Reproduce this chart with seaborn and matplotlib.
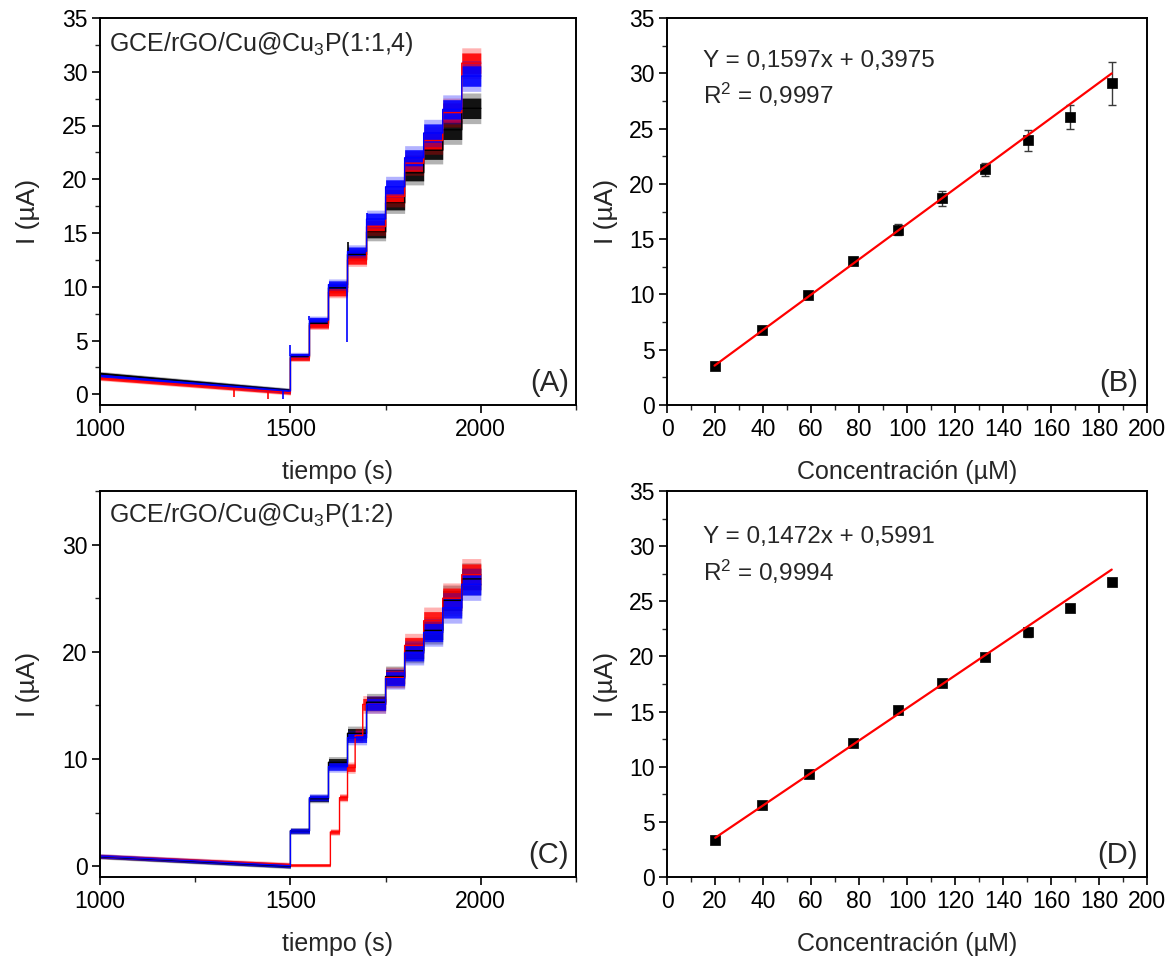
import numpy as np
import pandas as pd
import matplotlib
matplotlib.use("Agg")
import matplotlib.pyplot as plt
import seaborn as sns
from matplotlib.ticker import MultipleLocator

sns.set_theme(style="ticks")
plt.rcParams['font.family'] = ['Liberation Sans', 'DejaVu Sans']
plt.rcParams['mathtext.fontset'] = 'custom'
plt.rcParams['mathtext.rm'] = 'Liberation Sans'
plt.rcParams['mathtext.it'] = 'Liberation Sans'

# ---------------- data ----------------
t_start = 1000
t_end = 2000
step_times = [1500, 1550, 1600, 1650, 1700, 1750, 1800, 1850, 1900, 1950]

# Panel A  (GCE/rGO/Cu@Cu3P 1:1,4)
A_black_base = [1.9, 0.35]
A_red_base = [1.5, 0.15]
A_blue_base = [1.75, 0.3]
A_black_levels = [3.5, 6.6, 9.9, 13.0, 15.1, 17.8, 20.6, 22.7, 24.6, 26.6]
A_red_levels = [3.35, 6.4, 9.5, 12.5, 15.6, 18.4, 21.5, 23.6, 26.2, 30.8]
A_blue_levels = [3.6, 6.9, 10.2, 13.3, 16.3, 19.3, 22.0, 24.3, 26.5, 29.6]
A_noise = [0.2, 0.25, 0.35, 0.4, 0.55, 0.65, 0.75, 0.85, 0.9, 0.95]
A_spike_t = [1500, 1550, 1648, 1650, 1700, 1352, 1440, 1480]
A_spike_lo = [3.6, 6.9, 4.9, 13.3, 16.3, -0.3, -0.4, -0.4]
A_spike_hi = [4.6, 7.3, 10.2, 14.2, 16.9, 0.5, 0.3, 0.3]
A_spike_c = ['blue', 'blue', 'blue', 'black', 'blue', 'red', 'red', 'blue']

# Panel C  (GCE/rGO/Cu@Cu3P 1:2)
C_black_base = [0.9, 0.0]
C_red_base = [0.95, 0.15]
C_blue_base = [0.95, 0.05]
C_red_step_times = [1605, 1629, 1650, 1670, 1690, 1750, 1800, 1850, 1900, 1950]
C_black_levels = [3.3, 6.3, 9.7, 12.4, 15.3, 17.7, 20.1, 22.0, 24.8, 26.8]
C_red_levels = [3.2, 6.4, 9.2, 12.2, 15.1, 17.6, 20.6, 22.9, 25.0, 27.2]
C_blue_levels = [3.3, 6.4, 9.3, 12.0, 15.1, 17.5, 19.9, 21.8, 24.1, 26.3]
C_noise = [0.2, 0.25, 0.35, 0.45, 0.55, 0.65, 0.75, 0.85, 0.95, 1.0]

# Panel B calibration
B_conc = [19.8, 39.6, 58.8, 77.6, 96.1, 114.5, 132.5, 150.6, 168.0, 185.3]
B_current = [3.5, 6.74, 9.91, 13.0, 15.87, 18.68, 21.3, 23.93, 26.02, 29.1]
B_err = [0.1, 0.15, 0.2, 0.25, 0.47, 0.65, 0.6, 0.94, 1.09, 1.93]
B_slope, B_intercept = 0.1597, 0.3975

# Panel D calibration
D_conc = [20.1, 39.7, 59.0, 77.7, 96.3, 114.7, 132.6, 150.5, 167.8, 185.3]
D_current = [3.38, 6.49, 9.35, 12.13, 15.15, 17.62, 19.98, 22.18, 24.35, 26.77]
D_err = [0.15, 0.12, 0.12, 0.15, 0.2, 0.25, 0.15, 0.4, 0.2, 0.2]
D_slope, D_intercept = 0.1472, 0.5991

BASE_NOISE = 0.15
COL = {'black': '#000000', 'red': '#ff0000', 'blue': '#0000ff'}


def trace(base, times, levels, noise, first_flat=None):
    x = [t_start, step_times[0]]
    y = [base[0], base[1]]
    n = [BASE_NOISE, BASE_NOISE]
    if first_flat is not None and times[0] > step_times[0]:
        x += [step_times[0], times[0]]
        y += [first_flat, first_flat]
        n += [BASE_NOISE * 0.7, BASE_NOISE * 0.7]
    ends = list(times[1:]) + [t_end]
    for t0, t1, L, nz in zip(times, ends, levels, noise):
        x += [t0, t1]
        y += [L, L]
        n += [nz, nz]
    return np.array(x, float), np.array(y, float), np.array(n, float)


def draw_trace(ax, x, y, n, color, alpha=0.9):
    ax.fill_between(x, y - 1.5 * n, y + 1.5 * n, color=COL[color], alpha=0.3, lw=0)
    ax.fill_between(x, y - n, y + n, color=COL[color], alpha=alpha, lw=0)
    sns.lineplot(x=x, y=y, sort=False, estimator=None, color=COL[color],
                 lw=1.0, ax=ax)


fig = plt.figure(figsize=(11.67, 9.57), dpi=100)
W, H = 1167.0, 957.0


def rect(l, r, t, b):
    return [l / W, 1 - b / H, (r - l) / W, (b - t) / H]


axA = fig.add_axes(rect(100, 576, 18, 405))
axB = fig.add_axes(rect(667, 1147, 18, 405))
axC = fig.add_axes(rect(100, 576, 491, 877))
axD = fig.add_axes(rect(667, 1147, 491, 877))

TICK = 16.5
LAB = 18
YLAB = 19

# ---- Panel A ----
for col, base, lev in [('black', A_black_base, A_black_levels),
                       ('red', A_red_base, A_red_levels),
                       ('blue', A_blue_base, A_blue_levels)]:
    x, y, n = trace(base, step_times, lev, A_noise)
    draw_trace(axA, x, y, n, col)
for t, lo, hi, c in zip(A_spike_t, A_spike_lo, A_spike_hi, A_spike_c):
    axA.vlines(t, lo, hi, color=COL[c], lw=1.2)

# ---- Panel C ----
for col, base, times, lev, ff in [('black', C_black_base, step_times, C_black_levels, None),
                                  ('red', C_red_base, C_red_step_times, C_red_levels, 0.1),
                                  ('blue', C_blue_base, step_times, C_blue_levels, None)]:
    x, y, n = trace(base, times, lev, C_noise, first_flat=ff)
    draw_trace(axC, x, y, n, col, alpha=0.85)

for ax, sub, lab in [(axA, '1:1,4', '(A)'), (axC, '1:2', '(C)')]:
    ax.set_xlim(1000, 2250)
    ax.set_ylim(-1, 35)
    ax.xaxis.set_major_locator(MultipleLocator(500))
    ax.xaxis.set_minor_locator(MultipleLocator(250))
    ax.set_xlabel('tiempo (s)', fontsize=LAB, labelpad=14)
    ax.set_ylabel('I (µA)', fontsize=YLAB, labelpad=16)
    ax.text(0.019, 0.915 if lab == '(A)' else 0.92,
            'GCE/rGO/Cu@Cu$_3$P(' + sub + ')', transform=ax.transAxes,
            fontsize=18, ha='left', va='baseline')
    ax.text(0.985, 0.036, lab, transform=ax.transAxes, fontsize=21,
            ha='right', va='baseline')

axA.yaxis.set_major_locator(MultipleLocator(5))
axA.yaxis.set_minor_locator(MultipleLocator(2.5))
axC.yaxis.set_major_locator(MultipleLocator(10))
axC.yaxis.set_minor_locator(MultipleLocator(5))

# ---- Panels B, D ----
for ax, cx, cy, ce, m, b, eq, r2, lab in [
        (axB, B_conc, B_current, B_err, B_slope, B_intercept,
         'Y = 0,1597x + 0,3975', 'R$^2$ = 0,9997', '(B)'),
        (axD, D_conc, D_current, D_err, D_slope, D_intercept,
         'Y = 0,1472x + 0,5991', 'R$^2$ = 0,9994', '(D)')]:
    ax.errorbar(cx, cy, yerr=ce, fmt='none', ecolor='#3a3a3a',
                elinewidth=1.0, capsize=3, capthick=1.0, zorder=2)
    sns.scatterplot(x=cx, y=cy, marker='s', color='black', s=48,
                    edgecolor='black', linewidth=0.5, ax=ax, zorder=3)
    xf = np.array([cx[0], cx[-1]])
    ax.plot(xf, m * xf + b, color='#ff0000', lw=1.6, zorder=4)
    ax.set_xlim(0, 200)
    ax.set_ylim(0, 35)
    ax.xaxis.set_major_locator(MultipleLocator(20))
    ax.xaxis.set_minor_locator(MultipleLocator(10))
    ax.yaxis.set_major_locator(MultipleLocator(5))
    ax.yaxis.set_minor_locator(MultipleLocator(2.5))
    ax.set_xlabel('Concentración (µM)', fontsize=LAB, labelpad=14)
    ax.set_ylabel('I (µA)', fontsize=YLAB, labelpad=8)
    ax.text(0.075, 0.874 if lab == '(B)' else 0.864, eq, transform=ax.transAxes,
            fontsize=17.5, ha='left', va='baseline')
    ax.text(0.075, 0.778 if lab == '(B)' else 0.768, r2, transform=ax.transAxes,
            fontsize=17.5, ha='left', va='baseline')
    ax.text(0.981, 0.036, lab, transform=ax.transAxes, fontsize=21,
            ha='right', va='baseline')

for ax in (axA, axB, axC, axD):
    for s in ax.spines.values():
        s.set_visible(True)
        s.set_linewidth(1.4)
        s.set_color('black')
    ax.tick_params(which='major', direction='out', length=6, width=1.2,
                   labelsize=TICK, colors='black', pad=3)
    ax.tick_params(which='minor', direction='out', length=3.5, width=1.0)
    ax.tick_params(top=False, right=False, which='both')
    ax.grid(False)
    ax.set_facecolor('white')

fig.savefig('out.png', dpi=100, facecolor='white')
